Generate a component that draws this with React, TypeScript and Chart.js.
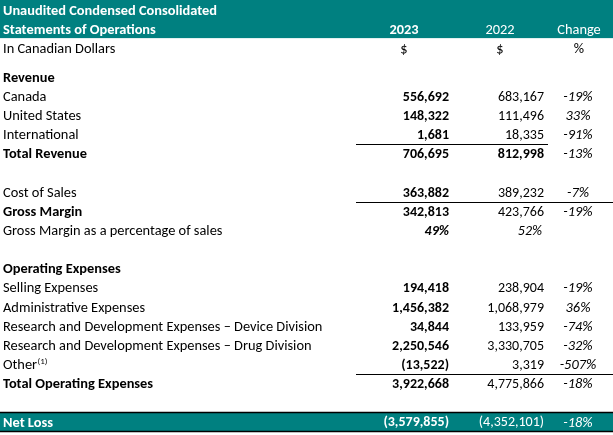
import React, { useEffect, useRef } from "react";
import { Chart, registerables } from "chart.js";

Chart.register(...registerables);

const titleLines = ["Unaudited Condensed Consolidated", "Statements of Operations"];
const columnHeaders = ["2023", "2022", "Change"];
const unitLabels = ["$", "$", "%"];

const categories = [
  "In Canadian Dollars",
  "",
  "Revenue",
  "Canada",
  "United States",
  "International",
  "Total Revenue",
  "",
  "Cost of Sales",
  "Gross Margin",
  "Gross Margin as a percentage of sales",
  "",
  "Operating Expenses",
  "Selling Expenses",
  "Administrative Expenses",
  "Research and Development Expenses – Device Division",
  "Research and Development Expenses – Drug Division",
  "Other",
  "Total Operating Expenses",
  "",
  "Net Loss",
];

const values2023 = [
  null, null, null, 556692, 148322, 1681, 706695, null, 363882, 342813, 49, null, null,
  194418, 1456382, 34844, 2250546, -13522, 3922668, null, -3579855,
];
const values2022 = [
  null, null, null, 683167, 111496, 18335, 812998, null, 389232, 423766, 52, null, null,
  238904, 1068979, 133959, 3330705, 3319, 4775866, null, -4352101,
];
const changePct = [
  null, null, null, -19, 33, -91, -13, null, -7, -19, null, null, null,
  -19, 36, -74, -32, -507, -18, null, -18,
];

const boldRows = ["Revenue", "Total Revenue", "Gross Margin", "Operating Expenses", "Total Operating Expenses", "Net Loss"];
const bold2022Rows = ["Total Revenue"];
const percentRows = ["Gross Margin as a percentage of sales"];
const footnoteRows: Record<string, string> = { Other: "(1)" };
const shortRuleAbove = ["Total Revenue"];
const longRuleAbove = ["Gross Margin", "Total Operating Expenses"];
const highlightRows = ["Net Loss"];

const TEAL = "#008080";
const FONT = '"Carlito", "Calibri", "Lato", sans-serif';
const FS = 14.4;
const NFS = 14;

function fmt(v: number) {
  const s = Math.abs(v).toLocaleString("en-US");
  return v < 0 ? `(${s})` : s;
}

export default function App() {
  const ref = useRef<HTMLCanvasElement | null>(null);

  useEffect(() => {
    document.body.style.margin = "0";
    const canvas = ref.current!;
    // row index for each category (first blank row is a half-height spacer)
    const rowY: number[] = [];
    let idx = 2;
    categories.forEach((c, i) => {
      rowY.push(idx);
      idx += c === "" && i === 1 ? 0.5 : 1;
    });

    const tablePlugin = {
      id: "tablePlugin",
      afterDraw(chart: any) {
        const { ctx, scales } = chart;
        const xs = scales.x;
        const ys = scales.y;
        const X = (v: number) => xs.getPixelForValue(v);
        const Y = (v: number) => ys.getPixelForValue(v);
        const colRight = [449, 544];
        const colCenter = [404, 500, 579];
        const changeCenter = 578;
        const left = X(3);
        ctx.save();
        // header band
        ctx.fillStyle = TEAL;
        ctx.fillRect(X(0), Y(-0.53), X(613) - X(0), Y(1.46) - Y(-0.53));
        ctx.fillStyle = "#fff";
        ctx.textBaseline = "middle";
        ctx.font = `bold ${FS}px ${FONT}`;
        ctx.textAlign = "left";
        titleLines.forEach((t, i) => ctx.fillText(t, left, Y(i) + 1));
        ctx.textAlign = "center";
        columnHeaders.forEach((h, i) => {
          ctx.font = `${i === 0 ? "bold " : ""}${FS}px ${FONT}`;
          ctx.fillText(h, X(colCenter[i]), Y(1) + 1);
        });

        categories.forEach((label, i) => {
          const y = Y(rowY[i]) + 1;
          const bold = boldRows.includes(label);
          const hl = highlightRows.includes(label);
          if (hl) {
            ctx.fillStyle = TEAL;
            ctx.fillRect(X(0), Y(rowY[i] - 0.5), X(613) - X(0), Y(rowY[i] + 0.5) - Y(rowY[i] - 0.5));
            ctx.strokeStyle = "#000";
            ctx.lineWidth = 1.5;
            ctx.beginPath();
            ctx.moveTo(X(0), Y(rowY[i] - 0.5));
            ctx.lineTo(X(613), Y(rowY[i] - 0.5));
            ctx.moveTo(X(0), Y(rowY[i] + 0.5));
            ctx.lineTo(X(613), Y(rowY[i] + 0.5));
            ctx.stroke();
          }
          const color = hl ? "#fff" : "#000";
          ctx.fillStyle = color;
          ctx.textAlign = "left";
          ctx.font = `${bold ? "bold " : ""}${FS}px ${FONT}`;
          ctx.fillText(label, left, y);
          if (footnoteRows[label]) {
            const w = ctx.measureText(label).width;
            ctx.font = `${FS * 0.62}px ${FONT}`;
            ctx.fillText(footnoteRows[label], left + w + 0.5, y - 4);
          }
          if (i === 0) {
            ctx.textAlign = "center";
            ctx.font = `${FS}px ${FONT}`;
            unitLabels.forEach((u, k) => ctx.fillText(u, X(colCenter[k]), y));
          }
          // rules
          ctx.strokeStyle = "#000";
          ctx.lineWidth = 1;
          if (shortRuleAbove.includes(label) || longRuleAbove.includes(label)) {
            const ry = Math.round(Y(rowY[i] - 0.5)) + 0.5;
            ctx.beginPath();
            ctx.moveTo(X(356), ry);
            ctx.lineTo(shortRuleAbove.includes(label) ? X(548) : X(613), ry);
            ctx.stroke();
          }
          const pct = percentRows.includes(label);
          const v1 = values2023[i];
          const v2 = values2022[i];
          const ch = changePct[i];
          ctx.textAlign = "right";
          ctx.fillStyle = color;
          if (v1 != null) {
            ctx.font = `${pct ? "italic " : ""}bold ${NFS}px ${FONT}`;
            ctx.fillText(pct ? `${v1}%` : fmt(v1), X(colRight[0]), y);
          }
          if (v2 != null) {
            const b2 = bold2022Rows.includes(label);
            ctx.font = `${pct ? "italic " : ""}${b2 ? "bold " : ""}${NFS}px ${FONT}`;
            ctx.fillText(pct ? `${v2}%` : fmt(v2), X(pct ? colRight[1] - 2 : colRight[1]), y);
          }
          if (ch != null) {
            ctx.textAlign = "center";
            ctx.font = `italic ${FS}px ${FONT}`;
            ctx.fillText(`${ch}%`, X(changeCenter), y);
          }
        });
        ctx.restore();
      },
    };

    const chart = new Chart(canvas, {
      type: "scatter",
      data: { datasets: [{ data: [], pointRadius: 0 }] },
      options: {
        animation: false,
        responsive: false,
        maintainAspectRatio: false,
        layout: { padding: 0 },
        plugins: { legend: { display: false }, tooltip: { enabled: false } },
        scales: {
          x: { type: "linear", min: 0, max: 613, display: false },
          y: { type: "linear", min: -0.53, max: 22.18, reverse: true, display: false },
        },
      },
      plugins: [tablePlugin],
    });
    return () => chart.destroy();
  }, []);

  return <canvas ref={ref} width={613} height={435} style={{ display: "block" }} />;
}
